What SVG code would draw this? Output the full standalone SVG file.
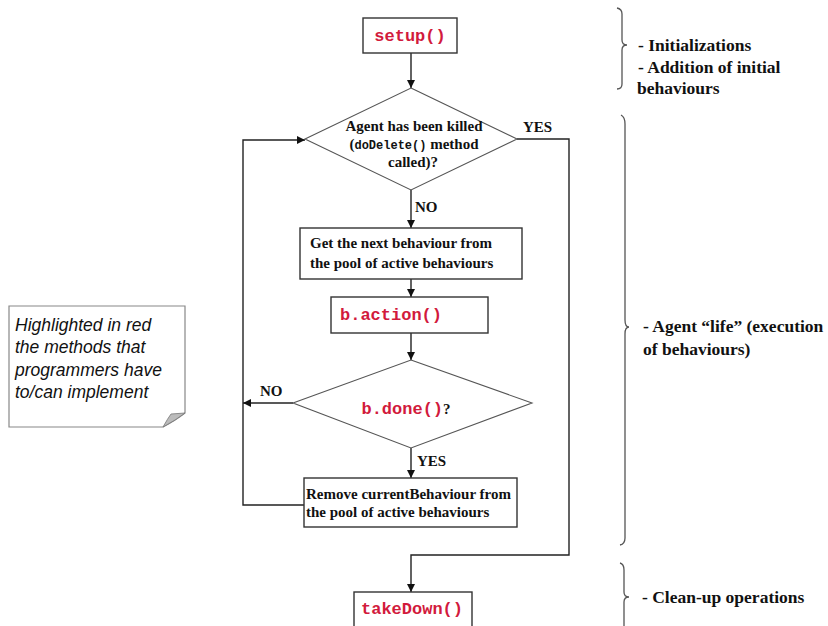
<svg xmlns="http://www.w3.org/2000/svg" width="828" height="626" viewBox="0 0 828 626">
  <style>
    .box { fill: #fff; stroke: #333; stroke-width: 1.4; }
    .dia { fill: #fff; stroke: #555; stroke-width: 1.1; }
    .line { fill: none; stroke: #222; stroke-width: 1.4; }
    .brace { fill: none; stroke: #555; stroke-width: 1.3; }
    .code { font-family: "Liberation Mono", "Courier New", monospace; font-weight: bold; font-size: 17px; fill: #d21a3c; }
    .txt { font-family: "Liberation Serif", "Times New Roman", serif; font-weight: bold; font-size: 15px; fill: #111; }
    .side { font-family: "Liberation Serif", "Times New Roman", serif; font-weight: bold; font-size: 17.5px; fill: #111; }
    .mono { font-family: "Liberation Mono", "Courier New", monospace; font-size: 12px; fill: #111; }
    .note { font-family: "Liberation Sans", Arial, sans-serif; font-style: italic; font-size: 17.5px; fill: #111; }
  </style>
  <defs>
    <marker id="arrow" viewBox="0 0 10 10" refX="10" refY="5" markerWidth="8" markerHeight="8" markerUnits="userSpaceOnUse" orient="auto">
      <path d="M0,0 L10,5 L0,10 z" fill="#111"/>
    </marker>
  </defs>
  <rect width="828" height="626" fill="#fff"/>

  <!-- connectors -->
  <g id="connectors">
    <line class="line" x1="411" y1="53" x2="411" y2="88" marker-end="url(#arrow)"/>
    <line class="line" x1="411" y1="190" x2="411" y2="228" marker-end="url(#arrow)"/>
    <line class="line" x1="411" y1="279" x2="411" y2="297" marker-end="url(#arrow)"/>
    <line class="line" x1="411" y1="333" x2="411" y2="360" marker-end="url(#arrow)"/>
    <line class="line" x1="411" y1="448" x2="411" y2="478" marker-end="url(#arrow)"/>
    <!-- NO branch of b.done() back to the loop -->
    <line class="line" x1="293" y1="403" x2="243" y2="403" marker-end="url(#arrow)"/>
    <!-- loop back to the kill check -->
    <polyline class="line" points="304,505 243,505 243,140 305,140" marker-end="url(#arrow)"/>
    <!-- YES branch to takeDown -->
    <polyline class="line" points="517,139 569,139 569,555 411,555 411,592" marker-end="url(#arrow)"/>
    <text class="txt" x="523" y="132">YES</text>
    <text class="txt" x="415" y="212">NO</text>
    <text class="txt" x="260" y="396">NO</text>
    <text class="txt" x="417" y="466">YES</text>
  </g>

  <g id="setup">
    <rect class="box" x="363" y="18" width="94" height="35"/>
    <text class="code" x="410" y="41" text-anchor="middle">setup()</text>
  </g>

  <g id="killed-check">
    <polygon class="dia" points="411,88 517,139 411,190 305,139"/>
    <text class="txt" x="414" y="131" text-anchor="middle">Agent has been killed</text>
    <text class="txt" x="414" y="149" text-anchor="middle">(<tspan class="mono">doDelete()</tspan> method</text>
    <text class="txt" x="413" y="167" text-anchor="middle">called)?</text>
  </g>

  <g id="next-behaviour">
    <rect class="box" x="300" y="228" width="222" height="51"/>
    <text class="txt" x="310" y="248">Get the next behaviour from</text>
    <text class="txt" x="310" y="268">the pool of active behaviours</text>
  </g>

  <g id="action">
    <rect class="box" x="331" y="297" width="157" height="36"/>
    <text class="code" x="340" y="320">b.action()</text>
  </g>

  <g id="done-check">
    <polygon class="dia" points="411,360 532,403 411,448 293,403"/>
    <text x="406" y="414" text-anchor="middle"><tspan class="code">b.done()</tspan><tspan class="txt" font-weight="normal" font-size="16px">?</tspan></text>
  </g>

  <g id="remove-behaviour">
    <rect class="box" x="304" y="478" width="213" height="49"/>
    <text class="txt" x="306" y="499">Remove currentBehaviour from</text>
    <text class="txt" x="306" y="517">the pool of active behaviours</text>
  </g>

  <g id="takedown">
    <rect class="box" x="354" y="592" width="118" height="40"/>
    <text class="code" x="361" y="614">takeDown()</text>
  </g>

  <g id="note">
    <path d="M9,306 L185,306 L185,413 Q176,420 163,427 L9,427 Z" fill="#fff" stroke="#888" stroke-width="1.2"/>
    <path d="M163,427 Q168,418 171,414 L185,413 Q176,420 163,427 Z" fill="#bbb" stroke="#777" stroke-width="0.8"/>
    <text class="note" x="15" y="331">Highlighted in red</text>
    <text class="note" x="15" y="353">the methods that</text>
    <text class="note" x="15" y="376">programmers have</text>
    <text class="note" x="15" y="398">to/can implement</text>
  </g>

  <g id="phase-init">
    <path class="brace" d="M617,8 Q622,9 622,14 L622,40 Q622,45 627,45 Q622,45 622,50 L622,84 Q622,89 617,89"/>
    <text class="side" x="638" y="51">- Initializations</text>
    <text class="side" x="638" y="73">- Addition of initial</text>
    <text class="side" x="637" y="94">behaviours</text>
  </g>

  <g id="phase-life">
    <path class="brace" d="M621,115 Q625,117 625,124 L625,320 Q625,327 629,327 Q625,327 625,334 L625,538 Q625,544 620,545"/>
    <text class="side" x="643" y="332">- Agent “life” (execution</text>
    <text class="side" x="643" y="355">of behaviours)</text>
  </g>

  <g id="phase-cleanup">
    <path class="brace" d="M620,563 Q624,564 624,570 L624,592 Q624,597 629,597 Q624,597 624,602 L624,640"/>
    <text class="side" x="642" y="603">- Clean-up operations</text>
  </g>
</svg>
